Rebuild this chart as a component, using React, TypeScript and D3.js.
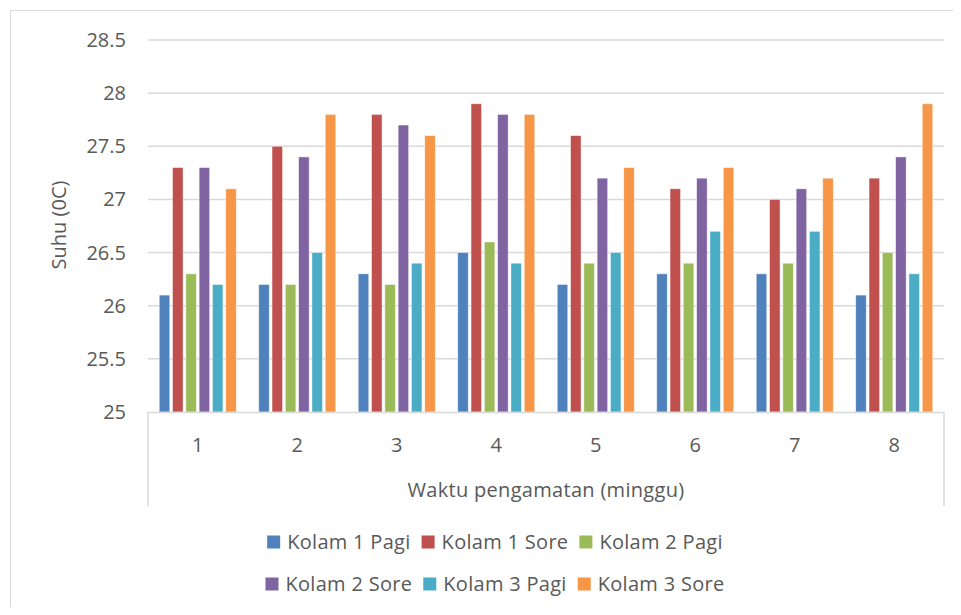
import React, { useEffect, useRef } from 'react';
import * as d3 from 'd3';

const weeks = ['1', '2', '3', '4', '5', '6', '7', '8'];
const seriesNames = ['Kolam 1 Pagi', 'Kolam 1 Sore', 'Kolam 2 Pagi', 'Kolam 2 Sore', 'Kolam 3 Pagi', 'Kolam 3 Sore'];
const seriesColors = ['#4F81BD', '#C0504D', '#9BBB59', '#8064A2', '#4BACC6', '#F79646'];

const kolam1Pagi = [26.1, 26.2, 26.3, 26.5, 26.2, 26.3, 26.3, 26.1];
const kolam1Sore = [27.3, 27.5, 27.8, 27.9, 27.6, 27.1, 27.0, 27.2];
const kolam2Pagi = [26.3, 26.2, 26.2, 26.6, 26.4, 26.4, 26.4, 26.5];
const kolam2Sore = [27.3, 27.4, 27.7, 27.8, 27.2, 27.2, 27.1, 27.4];
const kolam3Pagi = [26.2, 26.5, 26.4, 26.4, 26.5, 26.7, 26.7, 26.3];
const kolam3Sore = [27.1, 27.8, 27.6, 27.8, 27.3, 27.3, 27.2, 27.9];

const yTicks = [25, 25.5, 26, 26.5, 27, 27.5, 28, 28.5];

const FONT = '"Open Sans", sans-serif';
const FS = 20;
const TEXT = '#595959';
const GRID = '#d9d9d9';

export default function App() {
  const svgRef = useRef<SVGSVGElement>(null);

  useEffect(() => {
    if (!svgRef.current) return;
    const svg = d3.select(svgRef.current);
    svg.selectAll('*').remove();

    const all = [kolam1Pagi, kolam1Sore, kolam2Pagi, kolam2Sore, kolam3Pagi, kolam3Sore];

    const plot = { left: 148, right: 944, top: 40, bottom: 412 };

    // outer frame
    svg.append('rect')
      .attr('x', 10.5).attr('y', 10.5)
      .attr('width', 960).attr('height', 620)
      .attr('fill', '#fff').attr('stroke', GRID).attr('stroke-width', 1);

    const y = d3.scaleLinear().domain([25, 28.5]).range([plot.bottom, plot.top]);
    const x0 = d3.scaleBand<string>().domain(weeks)
      .range([plot.left, plot.right])
      .paddingInner(0.226).paddingOuter(0.113);
    const x1 = d3.scaleBand<string>().domain(seriesNames)
      .range([0, x0.bandwidth()])
      .paddingInner(0.21).paddingOuter(0);

    // gridlines
    svg.append('g').selectAll('line')
      .data(yTicks.filter(t => t > 25))
      .enter().append('line')
      .attr('x1', plot.left).attr('x2', plot.right)
      .attr('y1', d => y(d)).attr('y2', d => y(d))
      .attr('stroke', GRID).attr('stroke-width', 1.5);

    // y tick labels
    svg.append('g').selectAll('text')
      .data(yTicks)
      .enter().append('text')
      .attr('x', 126).attr('y', d => y(d))
      .attr('dy', '0.35em')
      .attr('text-anchor', 'end')
      .attr('font-family', FONT).attr('font-size', FS)
      .attr('fill', TEXT)
      .text(d => String(d));

    // bars
    const groups = svg.append('g').selectAll('g')
      .data(weeks)
      .enter().append('g')
      .attr('transform', d => `translate(${x0(d)},0)`);

    groups.selectAll('rect')
      .data((_, i) => seriesNames.map((s, k) => ({ s, k, v: all[k][i] })))
      .enter().append('rect')
      .attr('x', d => x1(d.s)!)
      .attr('width', x1.bandwidth())
      .attr('y', d => y(d.v))
      .attr('height', d => plot.bottom - y(d.v))
      .attr('fill', d => seriesColors[d.k])
      .attr('stroke', '#fff').attr('stroke-opacity', 0.6).attr('stroke-width', 0.75);

    // category axis box
    const axisG = svg.append('g');
    axisG.append('line')
      .attr('x1', plot.left).attr('x2', plot.right)
      .attr('y1', plot.bottom + 0.5).attr('y2', plot.bottom + 0.5)
      .attr('stroke', GRID).attr('stroke-width', 1.5);
    [plot.left, plot.right].forEach(xx => {
      axisG.append('line')
        .attr('x1', xx).attr('x2', xx)
        .attr('y1', plot.bottom).attr('y2', 506)
        .attr('stroke', GRID).attr('stroke-width', 1.5);
    });

    axisG.selectAll('text.wk')
      .data(weeks)
      .enter().append('text')
      .attr('class', 'wk')
      .attr('x', d => x0(d)! + x0.bandwidth() / 2)
      .attr('y', 445).attr('dy', '0.35em')
      .attr('text-anchor', 'middle')
      .attr('font-family', FONT).attr('font-size', FS)
      .attr('fill', TEXT)
      .text(d => d);

    svg.append('text')
      .attr('x', 546).attr('y', 490).attr('dy', '0.35em')
      .attr('text-anchor', 'middle')
      .attr('font-family', FONT).attr('font-size', FS)
      .attr('letter-spacing', 0.3)
      .attr('fill', TEXT)
      .text('Waktu pengamatan (minggu)');

    svg.append('text')
      .attr('transform', `translate(59,225) rotate(-90)`)
      .attr('dy', '0.35em')
      .attr('text-anchor', 'middle')
      .attr('font-family', FONT).attr('font-size', FS)
      .attr('fill', TEXT)
      .text('Suhu (0C)');

    // legend, two centred rows
    const rows = [[0, 1, 2], [3, 4, 5]];
    const rowY = [542, 584];
    const legend = svg.append('g');
    rows.forEach((row, ri) => {
      const rg = legend.append('g');
      let cx = 0;
      row.forEach(k => {
        rg.append('rect')
          .attr('x', cx).attr('y', rowY[ri] - 6.5)
          .attr('width', 13).attr('height', 13)
          .attr('fill', seriesColors[k]);
        const t = rg.append('text')
          .attr('x', cx + 20).attr('y', rowY[ri]).attr('dy', '0.35em')
          .attr('font-family', FONT).attr('font-size', FS)
          .attr('letter-spacing', 0.3)
          .attr('fill', TEXT)
          .text(seriesNames[k]);
        const w = (t.node() as SVGTextElement).getComputedTextLength();
        cx += 20 + w + 11;
      });
      const total = cx - 11;
      rg.attr('transform', `translate(${495 - total / 2},0)`);
    });
  }, []);

  return (
    <div style={{ margin: -8 }}>
      <svg ref={svgRef} width={961} height={615} style={{ display: 'block' }} />
    </div>
  );
}
